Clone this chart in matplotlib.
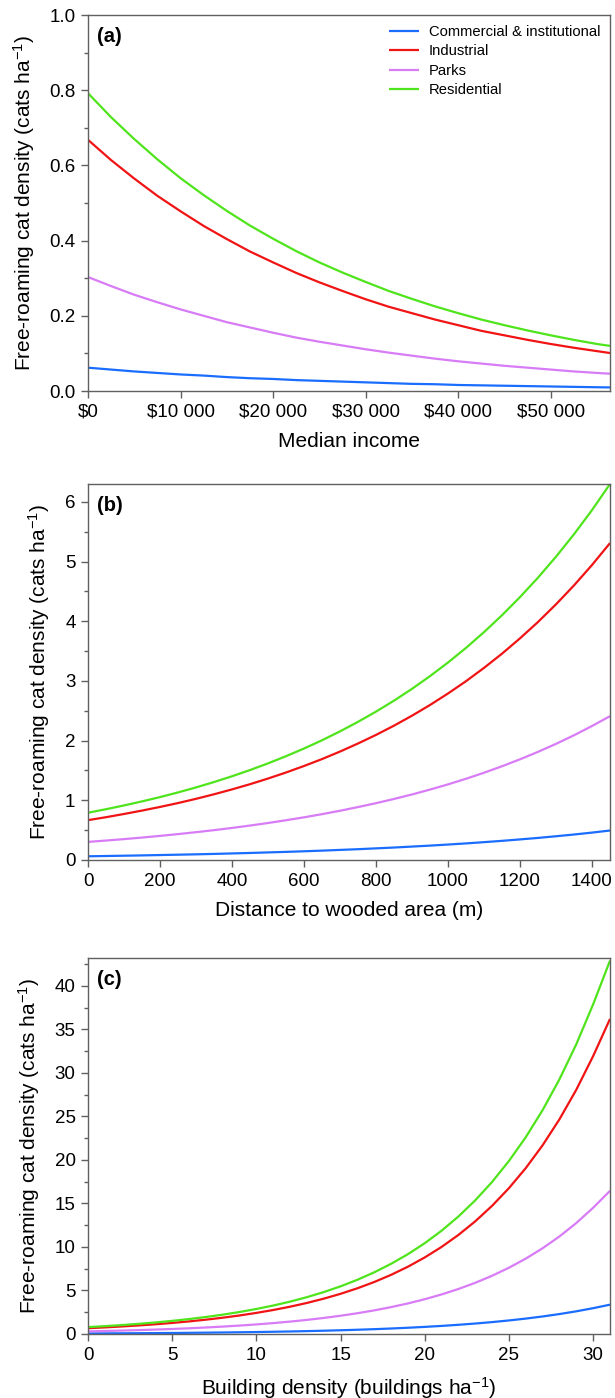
import matplotlib
matplotlib.use("Agg")
import matplotlib.pyplot as plt
from matplotlib.ticker import MultipleLocator, FixedLocator, FormatStrFormatter

plt.rcParams['font.family'] = ['Liberation Sans', 'DejaVu Sans']
plt.rcParams['mathtext.default'] = 'regular'

categories = ["Commercial & institutional", "Industrial", "Parks", "Residential"]
colors = ['#1a6dff', '#f01414', '#d87cf6', '#4fe41c']

# Panel (a): median income
income = [0, 2500, 5000, 7500, 10000, 12500, 15000, 17500, 20000, 22500, 25000, 27500, 30000,
          32500, 35000, 37500, 40000, 42500, 45000, 47500, 50000, 52500, 55000, 56400]
a_commercial = [0.062, 0.057, 0.052, 0.048, 0.044, 0.041, 0.037, 0.034, 0.032, 0.029, 0.027, 0.025,
                0.023, 0.021, 0.019, 0.018, 0.016, 0.015, 0.014, 0.013, 0.012, 0.011, 0.010, 0.0095]
a_industrial = [0.668, 0.614, 0.565, 0.519, 0.478, 0.439, 0.404, 0.371, 0.342, 0.314, 0.289, 0.266,
                0.244, 0.224, 0.207, 0.190, 0.175, 0.160, 0.148, 0.136, 0.125, 0.115, 0.106, 0.101]
a_parks = [0.303, 0.279, 0.256, 0.236, 0.217, 0.200, 0.183, 0.169, 0.155, 0.142, 0.131, 0.121,
           0.111, 0.102, 0.094, 0.086, 0.079, 0.073, 0.067, 0.062, 0.057, 0.052, 0.048, 0.046]
a_residential = [0.792, 0.728, 0.670, 0.616, 0.566, 0.521, 0.479, 0.440, 0.405, 0.372, 0.342, 0.315,
                 0.290, 0.266, 0.245, 0.225, 0.207, 0.190, 0.175, 0.161, 0.148, 0.136, 0.125, 0.120]
income_ticks = [0, 10000, 20000, 30000, 40000, 50000]
income_labels = ["$0", "$10 000", "$20 000", "$30 000", "$40 000", "$50 000"]

# Panel (b): distance to wooded area
distance = [0, 50, 100, 150, 200, 250, 300, 350, 400, 450, 500, 550, 600, 650, 700, 750, 800,
            850, 900, 950, 1000, 1050, 1100, 1150, 1200, 1250, 1300, 1350, 1400, 1450]
b_commercial = [0.062, 0.067, 0.072, 0.077, 0.083, 0.089, 0.095, 0.102, 0.110, 0.118, 0.127, 0.136,
                0.146, 0.157, 0.169, 0.181, 0.195, 0.209, 0.225, 0.241, 0.259, 0.278, 0.299, 0.321,
                0.345, 0.370, 0.398, 0.427, 0.459, 0.494]
b_industrial = [0.668, 0.717, 0.771, 0.828, 0.889, 0.954, 1.025, 1.101, 1.183, 1.270, 1.365, 1.466,
                1.575, 1.691, 1.817, 1.952, 2.096, 2.251, 2.418, 2.597, 2.790, 2.996, 3.219, 3.457,
                3.714, 3.988, 4.284, 4.601, 4.943, 5.31]
b_parks = [0.303, 0.326, 0.350, 0.376, 0.404, 0.434, 0.466, 0.500, 0.537, 0.577, 0.620, 0.666,
           0.715, 0.768, 0.825, 0.887, 0.952, 1.023, 1.098, 1.180, 1.267, 1.361, 1.462, 1.571,
           1.687, 1.812, 1.946, 2.090, 2.245, 2.41]
b_residential = [0.792, 0.851, 0.914, 0.982, 1.054, 1.132, 1.216, 1.306, 1.403, 1.507, 1.619, 1.739,
                 1.868, 2.006, 2.155, 2.315, 2.486, 2.670, 2.868, 3.081, 3.309, 3.554, 3.818, 4.101,
                 4.405, 4.731, 5.082, 5.458, 5.863, 6.30]

# Panel (c): building density
building = list(range(0, 32))
c_commercial = [0.062, 0.071, 0.080, 0.091, 0.104, 0.118, 0.134, 0.153, 0.174, 0.198, 0.225, 0.256,
                0.291, 0.331, 0.377, 0.429, 0.488, 0.555, 0.631, 0.718, 0.817, 0.930, 1.057, 1.203,
                1.368, 1.557, 1.771, 2.015, 2.292, 2.607, 2.966, 3.37]
c_industrial = [0.668, 0.760, 0.864, 0.983, 1.118, 1.272, 1.447, 1.646, 1.872, 2.130, 2.424, 2.757,
                3.136, 3.568, 4.059, 4.617, 5.253, 5.975, 6.798, 7.733, 8.797, 10.007, 11.385, 12.951,
                14.733, 16.761, 19.067, 21.690, 24.675, 28.071, 31.934, 36.2]
c_parks = [0.303, 0.345, 0.393, 0.447, 0.508, 0.578, 0.657, 0.748, 0.851, 0.968, 1.101, 1.252,
           1.425, 1.621, 1.844, 2.098, 2.386, 2.715, 3.089, 3.513, 3.997, 4.547, 5.172, 5.884,
           6.694, 7.615, 8.663, 9.855, 11.211, 12.754, 14.508, 16.45]
c_residential = [0.792, 0.901, 1.025, 1.166, 1.326, 1.509, 1.716, 1.953, 2.221, 2.527, 2.875, 3.270,
                 3.720, 4.232, 4.815, 5.477, 6.231, 7.088, 8.064, 9.173, 10.435, 11.871, 13.505, 15.363,
                 17.477, 19.882, 22.618, 25.730, 29.271, 33.299, 37.881, 42.9]

ylabel = "Free-roaming cat density (cats ha$^{-1}$)"

fig = plt.figure(figsize=(6.15, 13.98), dpi=100)
L, W, H = 88 / 615, 522 / 615, 376 / 1398
ax_a = fig.add_axes([L, 1 - 391 / 1398, W, H])
ax_b = fig.add_axes([L, 1 - 860 / 1398, W, H])
ax_c = fig.add_axes([L, 1 - 1334 / 1398, W, H])

panels = [
    (ax_a, income, [a_commercial, a_industrial, a_parks, a_residential], "(a)", "Median income",
     (0, 56400), (0, 1.0)),
    (ax_b, distance, [b_commercial, b_industrial, b_parks, b_residential], "(b)", "Distance to wooded area (m)",
     (0, 1450), (0, 6.3)),
    (ax_c, building, [c_commercial, c_industrial, c_parks, c_residential], "(c)",
     "Building density (buildings ha$^{-1}$)", (0, 31), (0, 43.2)),
]

spine_color = '#606060'
for ax, x, series, tag, xlabel, xlim, ylim in panels:
    for name, ys, col in zip(categories, series, colors):
        ax.plot(x, ys, color=col, lw=1.6, label=name, solid_capstyle='butt')
    ax.set_xlim(*xlim)
    ax.set_ylim(*ylim)
    ax.set_xlabel(xlabel, fontsize=15, labelpad=8)
    ax.set_ylabel(ylabel, fontsize=15, labelpad=9)
    ax.text(0.018, 0.968, tag, transform=ax.transAxes, fontsize=14.5, fontweight='bold',
            va='top', ha='left')
    for s in ax.spines.values():
        s.set_color(spine_color)
        s.set_linewidth(1.0)
    ax.tick_params(axis='both', which='major', direction='out', length=5, width=1,
                   color=spine_color, labelsize=13.5, pad=4)
    ax.tick_params(axis='y', which='minor', direction='out', length=3, width=1, color=spine_color)

ax_a.xaxis.set_major_locator(FixedLocator(income_ticks))
ax_a.set_xticklabels(income_labels)
ax_a.yaxis.set_major_locator(MultipleLocator(0.2))
ax_a.yaxis.set_minor_locator(MultipleLocator(0.1))
ax_a.yaxis.set_major_formatter(FormatStrFormatter('%.1f'))

ax_b.xaxis.set_major_locator(MultipleLocator(200))
ax_b.yaxis.set_major_locator(MultipleLocator(1))
ax_b.yaxis.set_minor_locator(MultipleLocator(0.5))

ax_c.xaxis.set_major_locator(MultipleLocator(5))
ax_c.yaxis.set_major_locator(MultipleLocator(5))
ax_c.yaxis.set_minor_locator(MultipleLocator(2.5))

ax_a.legend(loc='upper right', bbox_to_anchor=(0.99, 0.985), frameon=False, fontsize=10.6,
            handlelength=2.0, handletextpad=0.7, labelspacing=0.36, borderaxespad=0.0,
            borderpad=0.3)

fig.savefig("out.png", dpi=100)
